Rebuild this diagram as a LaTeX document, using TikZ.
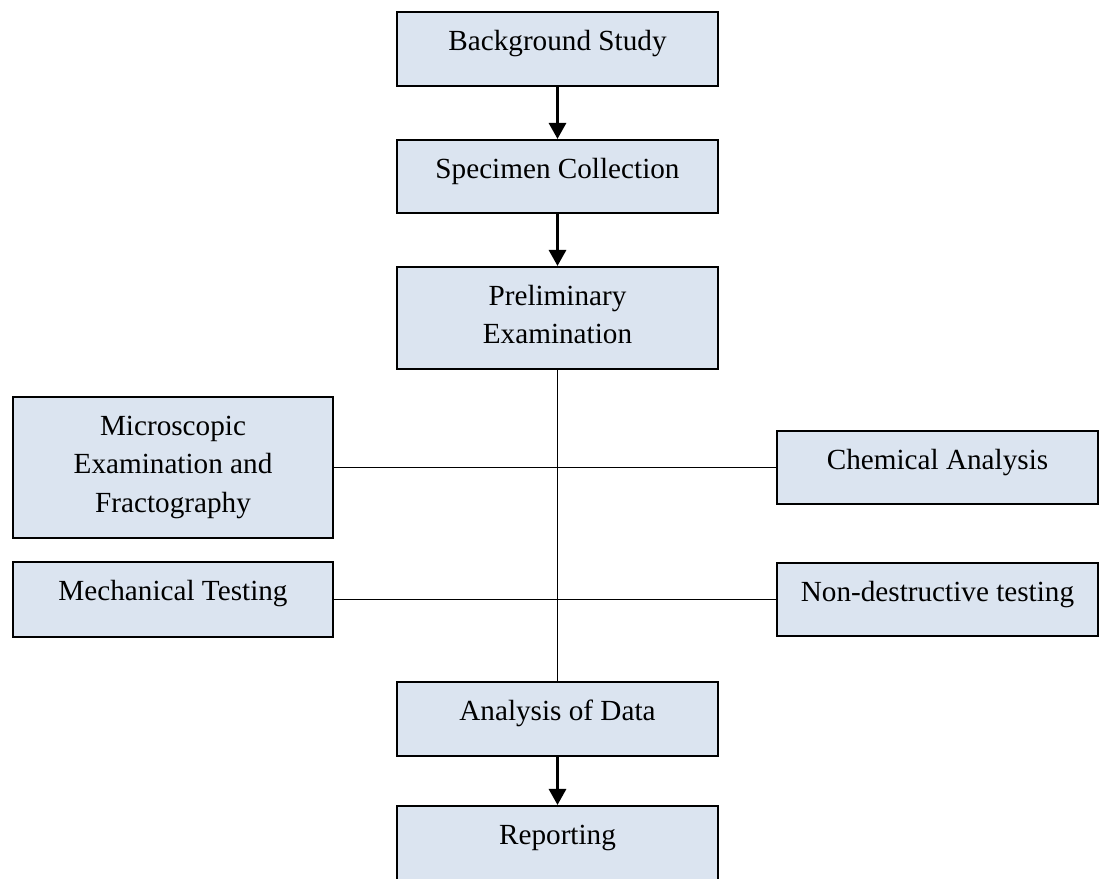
\documentclass[tikz,border=0pt]{standalone}
\usepackage{fontspec}
\setmainfont{Liberation Serif}
\usetikzlibrary{arrows.meta}
\definecolor{boxfill}{HTML}{DBE4F0}
\newcommand\bxt[3]{\parbox[c][#1pt][t]{#2pt}{\centering\fontsize{29.2}{38.5}\selectfont\rule{0pt}{38pt}#3\par}}
\tikzset{
  bx/.style={draw=black, fill=boxfill, line width=2.1pt, inner sep=0pt, rectangle},
  arr/.style={line width=3pt, -{Triangle[width=17pt,length=16pt]}},
  conn/.style={line width=1.9pt}
}
\begin{document}
\begin{tikzpicture}[x=1pt,y=-1pt]
\useasboundingbox (0,0) rectangle (1100,878);
\clip (0,0) rectangle (1100,878);
\node[bx] (bg) at (557.5,49) {\bxt{74}{321}{Background Study}};
\node[bx] (spec) at (557.5,176.5) {\bxt{73}{321}{Specimen Collection}};
\node[bx] (prel) at (557.5,318) {\bxt{102}{321}{Preliminary\\Examination}};
\node[bx] (micro) at (173,467.5) {\bxt{141}{320}{Microscopic\\Examination and\\Fractography}};
\node[bx] (chem) at (937.5,467.5) {\bxt{73}{321}{Chemical Analysis}};
\node[bx] (mech) at (173,599.5) {\bxt{75}{320}{Mechanical Testing}};
\node[bx] (ndt) at (937.5,599.5) {\bxt{73}{321}{Non-destructive testing}};
\node[bx] (anal) at (557.5,719) {\bxt{74}{321}{Analysis of Data}};
\node[bx] (rep) at (557.5,843) {\bxt{74}{321}{Reporting}};
\draw[arr] (bg) -- (spec);
\draw[arr] (spec) -- (prel);
\draw[conn] (prel) -- (anal);
\draw[conn] (micro) -- (chem);
\draw[conn] (mech) -- (ndt);
\draw[arr] (anal) -- (rep);
\end{tikzpicture}
\end{document}
